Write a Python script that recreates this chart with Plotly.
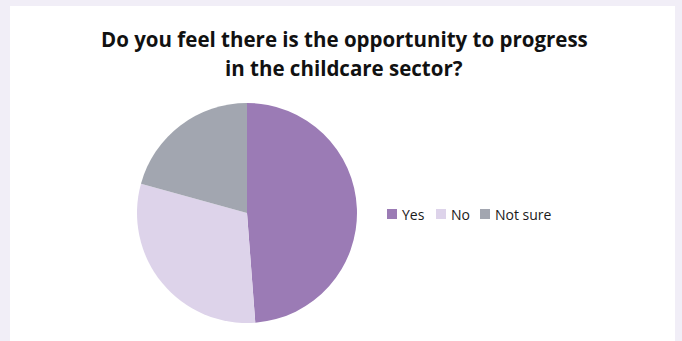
import plotly.graph_objects as go

# Survey responses (share of respondents, %)
answers = ["Yes", "No", "Not sure"]
shares = [48.8, 30.5, 20.7]
slice_colors = ["#9b7bb5", "#ddd3ea", "#a2a6b0"]

title_lines = [
    "Do you feel there is the opportunity to progress",
    "in the childcare sector?",
]

W, H = 682, 341
FONT = "Open Sans, Noto Sans, sans-serif"


def px(x):
    return x / W


def py(y):
    return 1 - y / H


fig = go.Figure(
    go.Pie(
        labels=answers,
        values=shares,
        sort=False,
        direction="clockwise",
        rotation=0,
        textinfo="none",
        hoverinfo="label+percent",
        marker=dict(colors=slice_colors, line=dict(width=0)),
        domain=dict(x=[px(137), px(357)], y=[py(323), py(103)]),
        showlegend=False,
    )
)

# white card on the lavender page
shapes = [
    dict(
        type="rect", xref="paper", yref="paper",
        x0=px(10), x1=px(675), y0=0, y1=py(6),
        fillcolor="#ffffff", line=dict(width=0), layer="below",
    )
]

annotations = []
# two-line bold title
for line, baseline in zip(title_lines, [46, 74.5]):
    annotations.append(dict(
        text=f"<b>{line}</b>", xref="paper", yref="paper",
        x=px(344), y=py(baseline), xanchor="center", yanchor="bottom",
        yshift=-9.5, showarrow=False,
        font=dict(size=20.5, family=FONT, color="#111111"),
    ))

# compact horizontal legend: swatch + label per answer
legend_x = [387, 436, 480]
for name, color, x0 in zip(answers, slice_colors, legend_x):
    shapes.append(dict(
        type="rect", xref="paper", yref="paper",
        x0=px(x0), x1=px(x0 + 10), y0=py(219), y1=py(209),
        fillcolor=color, line=dict(width=0),
    ))
    annotations.append(dict(
        text=name, xref="paper", yref="paper",
        x=px(x0 + 13), y=py(214), xanchor="left", yanchor="middle",
        showarrow=False, font=dict(size=14, family=FONT, color="#1a1a1a"),
    ))

fig.update_layout(
    width=W,
    height=H,
    margin=dict(l=0, r=0, t=0, b=0),
    paper_bgcolor="#f1eef7",
    font=dict(family=FONT, color="#1a1a1a"),
    shapes=shapes,
    annotations=annotations,
    showlegend=False,
)

fig.write_html("out.html")
